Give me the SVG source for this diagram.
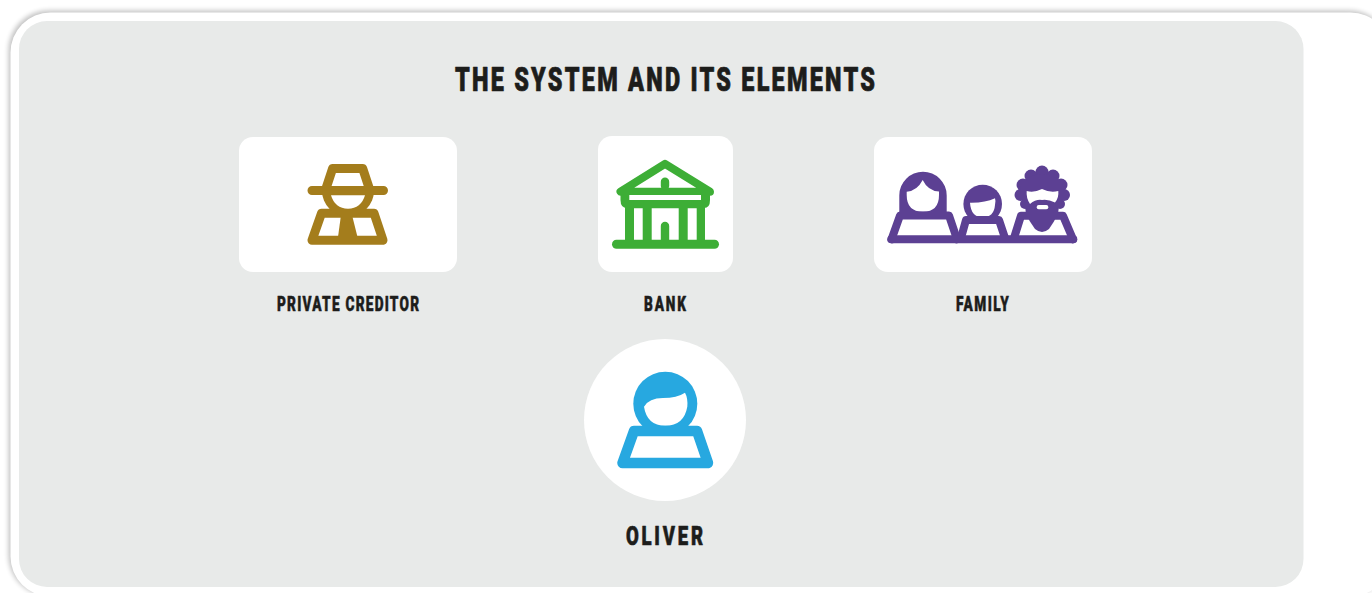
<svg xmlns="http://www.w3.org/2000/svg" width="1372" height="593" viewBox="0 0 1372 593">
<style>
text{font-family:"Roboto","Liberation Sans",sans-serif;font-weight:900;fill:#1d1d1b;stroke:#1d1d1b;stroke-linejoin:round}
.w{fill:#fff}
.card{fill:#fff}
.l{stroke-width:.5;font-size:19.5px}
.gold{fill:#a47d1c}.goldS{fill:none;stroke:#a47d1c;stroke-width:9;stroke-linejoin:round;stroke-linecap:round}
.green{fill:#3dae36}.greenS{fill:none;stroke:#3dae36;stroke-width:9;stroke-linejoin:round;stroke-linecap:round}
.pur{fill:#5c4093}.purS{fill:none;stroke:#5c4093;stroke-width:8;stroke-linejoin:round;stroke-linecap:round}
.blue{fill:#27a8e0}.blueS{fill:none;stroke:#27a8e0;stroke-width:10.5;stroke-linejoin:round;stroke-linecap:round}
</style>
<defs>
<filter id="sh" x="-5%" y="-5%" width="110%" height="110%"><feGaussianBlur stdDeviation="2.4"/></filter>
</defs>
<rect width="1372" height="593" fill="#fff"/>
<rect x="8.500" y="10.500" width="1381" height="585" rx="40" fill="#000" opacity=".24" filter="url(#sh)"/>
<rect x="10.500" y="12.500" width="1380" height="584" rx="40" fill="#fff"/>
<rect x="19" y="21" width="1284.500" height="566" rx="28" fill="#e8eae9"/>
<text id="title" transform="translate(455 91) scale(.7 1)" font-size="33.500" stroke-width=".75" textLength="600" lengthAdjust="spacing">THE SYSTEM AND ITS ELEMENTS</text>

<g id="private-creditor">
<rect class="card" x="239" y="137" width="218" height="135" rx="14"/>
<path class="goldS" d="M312 190.500H383.500M325.500 190L332.600 168.500H362.700L369.800 190"/>
<path class="goldS" d="M312 240.200L321.500 213.200H374L383 240.200Z"/>
<path class="gold" d="M322 190.500A26 26 0 0 0 374 190.500Z"/>
<path class="gold" d="M341 215H352L357.500 237H338Z"/>
<path class="w" d="M331 195.300H365Q361 208.700 348 208.700Q335 208.700 331 195.300Z"/>
<text class="l" transform="translate(277 311) scale(.7 1)" textLength="203" lengthAdjust="spacing">PRIVATE CREDITOR</text>
</g>

<g id="bank">
<rect class="card" x="598" y="136" width="135" height="136" rx="14"/>
<path class="greenS" style="stroke-width:8" d="M665 163.800L620.500 191.700H710Z"/>
<path class="green" d="M620.500 191H710V200Q710 208 704 208H627Q620.500 208 620.500 200Z"/>
<path class="w" d="M629.300 195H701V200H629.300Z"/>
<path class="green" d="M625 205H705V242H625Z"/>
<path class="w" d="M634 208.300H642.700V240H634ZM651.700 208.300H678.700V240H651.700ZM687.700 208.300H696.700V240H687.700Z"/>
<path class="greenS" style="stroke-width:8.400" d="M665 226V240M665 181.700V186"/>
<path class="greenS" d="M616.500 244.200H714.500"/>
<text class="l" transform="translate(644 311) scale(.7 1)" textLength="60" lengthAdjust="spacing">BANK</text>
</g>

<g id="family">
<rect class="card" x="874" y="137" width="218" height="135" rx="14"/>
<path class="pur" d="M899.300 215V195.400A23.700 23.700 0 0 1 946.700 195.400V215Z"/>
<path class="w" d="M906.700 191.700Q917 191 922.700 180Q928 191 939 191.500V195Q939 211.700 923 211.700Q906.700 211.700 906.700 195Z"/>
<path class="purS" d="M891.500 239.300L900 215.500H949L957 239.300"/>
<circle class="pur" cx="982.700" cy="204" r="19.300"/>
<path class="w" d="M970 202.700Q985 203 995 198.300Q996 201 995 205Q994 217.300 982.700 217.300Q971 217.300 970 202.700Z"/>
<path class="purS" d="M961 238L966 220H999L1005 238"/>
<path class="purS" d="M1014 238L1021 215.700H1063L1073 239.300"/>
<path class="purS" d="M891.300 239.300H1073.300"/>
<path class="pur" d="M1024 198H1060L1058 214Q1054 222 1049 229Q1042 235 1035 229Q1029 221 1026 214Z"/>
<g class="pur">
<circle cx="1042" cy="172" r="6.500"/><circle cx="1031" cy="176" r="6.500"/><circle cx="1053" cy="176" r="6.500"/>
<circle cx="1023" cy="185" r="6.500"/><circle cx="1061" cy="185" r="6.500"/>
<circle cx="1020.500" cy="195" r="6"/><circle cx="1064" cy="195" r="6"/>
<circle cx="1025" cy="204" r="5"/><circle cx="1060" cy="204" r="5"/>
<ellipse cx="1042" cy="190" rx="22" ry="16"/>
</g>
<path class="w" d="M1026.700 191Q1034 193 1042 189Q1050 193 1058.300 191Q1059 198 1055 202.500Q1048 199 1042 200Q1036 199 1030 204Q1026 198 1026.700 191Z"/>
<rect class="w" x="1036.700" y="205" width="11.600" height="4.300" rx="2"/>
<text class="l" transform="translate(956 311) scale(.7 1)" textLength="75.500" lengthAdjust="spacing">FAMILY</text>
</g>

<g id="oliver">
<circle class="card" cx="665" cy="420" r="81"/>
<circle class="blue" cx="665.300" cy="403.700" r="32"/>
<path class="w" d="M644 406.700Q649 398 663 398Q677 398 685 392.700Q688 398 687.300 406.700Q684 425.700 665.300 425.700Q647 425.700 644 406.700Z"/>
<path class="blueS" d="M622.500 463L634 431H697L708 463Z"/>
<text transform="translate(626 545) scale(.7 1)" font-size="26.500" stroke-width=".65" textLength="110" lengthAdjust="spacing">OLIVER</text>
</g>
</svg>
